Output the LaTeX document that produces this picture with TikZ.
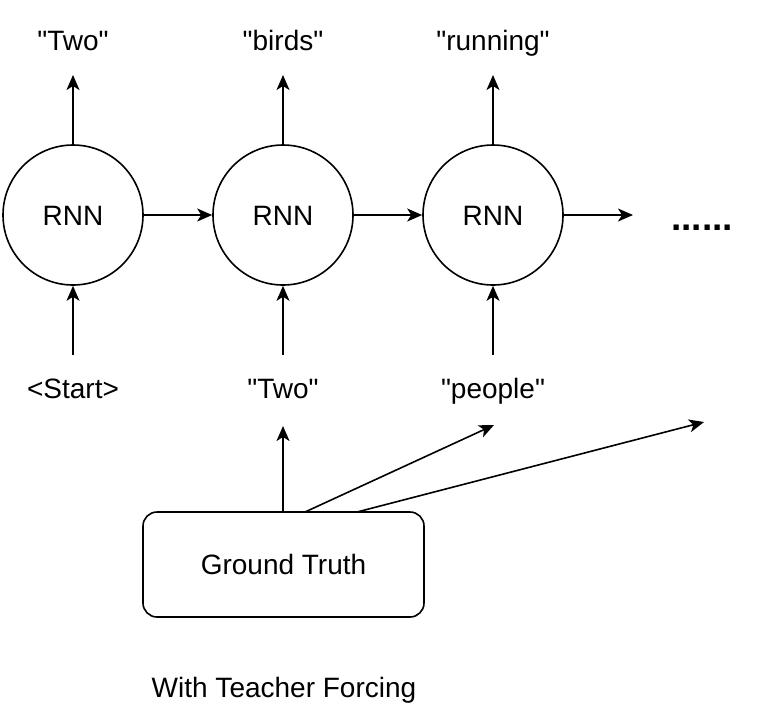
\documentclass[tikz,border=0pt]{standalone}
\usepackage{fontspec}
\setmainfont{Liberation Sans}
\newfontfamily\plainsans{Liberation Sans}
\usetikzlibrary{arrows.meta}
\newcommand\sq{\symbol{34}}
\begin{document}
\begin{tikzpicture}[x=1pt,y=-1pt,
  rnn/.style={circle,draw,line width=1.6pt,minimum size=140pt,inner sep=0pt},
  lbl/.style={anchor=base,inner sep=0pt,font=\plainsans\fontsize{28}{32}\selectfont},
  arr/.style={line width=1.6pt,-{Stealth[length=15pt,width=13pt,inset=4pt]}},
  gt/.style={draw,line width=1.6pt,rounded corners=14pt,minimum width=281pt,minimum height=105pt,inner sep=0pt}]
\useasboundingbox (0,0) rectangle (759,716);
% RNN cells
\node[rnn] (c1) at (73,215) {};
\node[rnn] (c2) at (283,215) {};
\node[rnn] (c3) at (493,215) {};
\node[lbl] (r1) at (73,225) {RNN};
\node[lbl] (r2) at (283,225) {RNN};
\node[lbl] (r3) at (493,225) {RNN};
% outputs
\node[lbl] (o1) at (73,50) {"Two"};
\node[lbl] (o2) at (283,50) {"birds"};
\node[lbl] (o3) at (493,50) {"running"};
\coordinate (ot1) at (73,75);
\coordinate (ot2) at (283,75);
\coordinate (ot3) at (493,75);
\draw[arr] (c1.north) -- (ot1);
\draw[arr] (c2.north) -- (ot2);
\draw[arr] (c3.north) -- (ot3);
% inputs
\node[lbl] (i1) at (73,398) {<Start>};
\node[lbl] (i2) at (283,398) {"Two"};
\node[lbl] (i3) at (493,398) {"people"};
\coordinate (is1) at (73,355);
\coordinate (is2) at (283,355);
\coordinate (is3) at (493,355);
\draw[arr] (is1) -- (c1.south);
\draw[arr] (is2) -- (c2.south);
\draw[arr] (is3) -- (c3.south);
% recurrence
\draw[arr] (c1.east) -- (c2.west);
\draw[arr] (c2.east) -- (c3.west);
\coordinate (ce) at (633,215);
\draw[arr] (c3.east) -- (ce);
\node[anchor=base,inner sep=0pt,font=\plainsans\fontsize{37}{40}\selectfont\bfseries] (dots) at (702,230) {......};
% ground truth
\node[gt] (g) at (283.5,564.5) {};
\node[lbl] (gl) at (283.5,574) {Ground Truth};
\coordinate (g1) at (283,512);
\coordinate (g2) at (305,512);
\coordinate (g3) at (357,512);
\coordinate (gt1) at (283,426);
\coordinate (gt2) at (494,425);
\coordinate (gt3) at (704,422);
\draw[arr] (g1) -- (gt1);
\draw[arr] (g2) -- (gt2);
\draw[arr] (g3) -- (gt3);
% caption
\node[lbl] (cap) at (284,697) {With Teacher Forcing};
\end{tikzpicture}
\end{document}
